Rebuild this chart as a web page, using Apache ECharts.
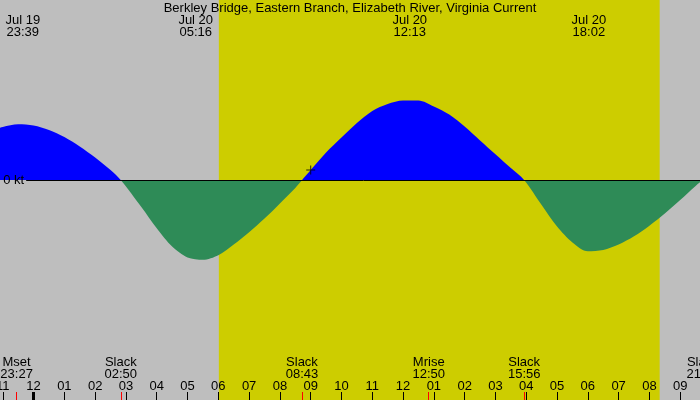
<!DOCTYPE html>
<html>
<head>
<meta charset="utf-8">
<script src="https://cdn.jsdelivr.net/npm/echarts@6/dist/echarts.min.js"></script>
<style>
  html, body { margin: 0; padding: 0; background: #bebebe; }
  #main { width: 700px; height: 400px; }
</style>
</head>
<body>
<div id="main"></div>
<script>
// hours from Jul 20 00:00, current in knots (flood +, ebb -)
var curveHours = [-1.5, -1.0, -0.5, 0, 0.5, 1.0, 1.5, 2.0, 2.5, 2.83,
    3.5, 4.0, 4.5, 5.0, 5.5, 6.0, 6.5, 7.0, 7.5, 8.0, 8.5, 8.72,
    9.0, 9.5, 10.0, 10.5, 11.0, 11.5, 12.0, 12.5, 13.0, 13.5, 14.0, 14.5, 15.0, 15.5, 15.93,
    16.5, 17.0, 17.5, 18.0, 18.5, 19.0, 19.5, 20.0, 20.5, 21.0, 21.5, 21.73, 22.0]
var curveKnots = [0.49, 0.53, 0.557, 0.545, 0.50, 0.43, 0.335, 0.225, 0.10, 0,
    -0.27, -0.483, -0.666, -0.775, -0.798, -0.752, -0.645, -0.522, -0.386, -0.234, -0.079, 0,
    0.10, 0.275, 0.425, 0.57, 0.69, 0.76, 0.795, 0.795, 0.735, 0.654, 0.535, 0.396, 0.257, 0.119, 0,
    -0.25, -0.466, -0.625, -0.713, -0.70, -0.645, -0.563, -0.457, -0.335, -0.20, -0.06, 0, 0.09]

// max flood / max ebb labels along the top
var peakDates = ['Jul 19', 'Jul 20', 'Jul 20', 'Jul 20']
var peakTimes = ['23:39', '05:16', '12:13', '18:02']

// slack water and moon events along the bottom
var eventNames = ['Mset', 'Slack', 'Slack', 'Mrise', 'Slack', 'Slack']
var eventDays = [19, 20, 20, 20, 20, 20]
var eventTimes = ['23:27', '02:50', '08:43', '12:50', '15:56', '21:44']

// hour ticks
var hourTicks = [-1, 0, 1, 2, 3, 4, 5, 6, 7, 8, 9, 10, 11, 12, 13, 14, 15, 16, 17, 18, 19, 20, 21]
var hourLabels = ['11', '12', '01', '02', '03', '04', '05', '06', '07', '08', '09', '10', '11',
    '12', '01', '02', '03', '04', '05', '06', '07', '08', '09']

var sunrise = '06:01'
var sunset = '20:20'
var nowMark = [9.0, 0.10]

function toHours(day, hhmm) {
    var p = hhmm.split(':')
    return (day - 20) * 24 + parseInt(p[0], 10) + parseInt(p[1], 10) / 60
}
function findIdx(arr, v) {
    for (var i = 0; i < arr.length; i++) {
        if (Math.abs(arr[i] - v) < 1e-6) return i
    }
    return -1
}

var peakHours = []
for (var i = 0; i < peakTimes.length; i++) {
    peakHours.push(toHours(peakDates[i] === 'Jul 19' ? 19 : 20, peakTimes[i]))
}
var eventHours = []
for (var i = 0; i < eventTimes.length; i++) {
    eventHours.push(toHours(eventDays[i], eventTimes[i]))
}
var curve = []
for (var i = 0; i < curveHours.length; i++) {
    curve.push([curveHours[i], curveKnots[i]])
}

var xMin = -1.09, xMax = 22
var font = "'Liberation Sans', Arial, sans-serif"
var noLine = { show: false, onZero: false }

var chart = echarts.init(document.getElementById('main'))
var option = {
    backgroundColor: '#bebebe',
    animation: false,
    title: {
        text: 'Berkley Bridge, Eastern Branch, Elizabeth River, Virginia Current',
        left: 'center',
        top: 0,
        padding: [2, 0, 0, 0],
        textStyle: { fontFamily: font, fontSize: 13, fontWeight: 'normal', color: '#000' }
    },
    grid: { left: 0, right: -11, top: 0, bottom: 0, outerBoundsMode: 'none', containLabel: false },
    visualMap: {
        show: false,
        type: 'piecewise',
        seriesIndex: 1,
        dimension: 1,
        pieces: [
            { gt: -10, lte: 0, color: '#2e8b57' },
            { gt: 0, lte: 10, color: '#0000ff' }
        ]
    },
    xAxis: [
        {
            type: 'value', min: xMin, max: xMax, position: 'bottom', z: 10,
            axisLine: noLine, splitLine: { show: false },
            axisTick: { show: true, inside: true, length: 8, customValues: hourTicks,
                lineStyle: { color: '#000', width: 1 } },
            axisLabel: { show: true, inside: true, margin: 8, customValues: hourTicks,
                fontFamily: font, fontSize: 13, color: '#000', lineHeight: 12,
                formatter: function (v) { return hourLabels[findIdx(hourTicks, v)] } }
        },
        {
            type: 'value', min: xMin, max: xMax, position: 'bottom', z: 10,
            axisLine: noLine, splitLine: { show: false },
            axisTick: { show: true, inside: true, length: 8, customValues: eventHours,
                lineStyle: { color: '#ff0000', width: 1 } },
            axisLabel: { show: true, inside: true, margin: 20, customValues: eventHours,
                fontFamily: font, fontSize: 13, color: '#000', lineHeight: 12,
                formatter: function (v) {
                    var k = findIdx(eventHours, v)
                    return eventNames[k] + '\n' + eventTimes[k]
                } }
        },
        {
            type: 'value', min: xMin, max: xMax, position: 'bottom', z: 10,
            axisLine: noLine, splitLine: { show: false },
            axisTick: { show: true, inside: true, length: 8, customValues: [0],
                lineStyle: { color: '#000', width: 3 } },
            axisLabel: { show: false }
        },
        {
            type: 'value', min: xMin, max: xMax, position: 'top', z: 10,
            axisLine: noLine, splitLine: { show: false },
            axisTick: { show: false },
            axisLabel: { show: true, inside: true, margin: 14, customValues: peakHours,
                fontFamily: font, fontSize: 13, color: '#000', lineHeight: 12,
                formatter: function (v) {
                    var k = findIdx(peakHours, v)
                    return peakDates[k] + '\n' + peakTimes[k]
                } }
        }
    ],
    yAxis: {
        type: 'value', min: -2.2, max: 1.8, show: false, splitLine: { show: false }
    },
    series: [
        {
            // daylight band
            type: 'line',
            data: [],
            z: 1,
            silent: true,
            markArea: {
                silent: true,
                itemStyle: { color: '#cdcd00' },
                data: [[{ xAxis: toHours(20, sunrise) }, { xAxis: toHours(20, sunset) }]]
            }
        },
        {
            name: 'current',
            type: 'line',
            data: curve,
            z: 2,
            smooth: 0.3,
            showSymbol: false,
            lineStyle: { width: 0 },
            areaStyle: { opacity: 1 },
            markLine: {
                silent: true,
                symbol: 'none',
                lineStyle: { color: '#000', width: 1, type: 'solid' },
                label: { show: true, position: 'start', distance: 2, formatter: '0 kt',
                    fontFamily: font, fontSize: 13, color: '#000' },
                data: [[{ coord: [-0.24, 0] }, { coord: [xMax, 0] }]]
            }
        },
        {
            type: 'scatter',
            z: 3,
            data: [nowMark],
            symbol: 'path://M4 0H5V9H4Z M0 4H9V5H0Z',
            symbolSize: 9,
            itemStyle: { color: '#000' }
        }
    ]
}
chart.setOption(option)
</script>
</body>
</html>
